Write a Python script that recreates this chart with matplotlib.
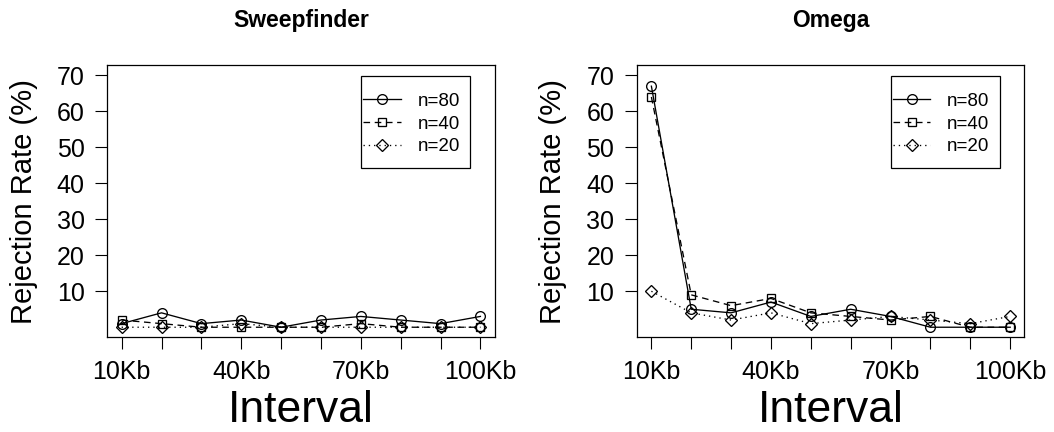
import matplotlib
matplotlib.use('Agg')
from matplotlib import pyplot as plt
from matplotlib.patches import Rectangle
import numpy as np

plt.rcParams['font.family'] = ['Liberation Sans', 'DejaVu Sans']

# interval positions and labels
intervals = [1, 2, 3, 4, 5, 6, 7, 8, 9, 10]
interval_labels = ['10Kb', '20Kb', '30Kb', '40Kb', '50Kb',
                   '60Kb', '70Kb', '80Kb', '90Kb', '100Kb']
shown_labels = ['10Kb', '40Kb', '70Kb', '100Kb']
yticks = [10, 20, 30, 40, 50, 60, 70]

# rejection rates (%)
sweep_n80 = [1, 4, 1, 2, 0, 2, 3, 2, 1, 3]
sweep_n40 = [2, 1, 0, 0, 0, 0, 1, 0, 0, 0]
sweep_n20 = [0, 0, 0, 1, 0, 0, 0, 0, 0, 0]

omega_n80 = [67, 5, 4, 7, 3, 5, 3, 0, 0, 0]
omega_n40 = [64, 9, 6, 8, 4, 3, 2, 3, 0, 0]
omega_n20 = [10, 4, 2, 4, 1, 2, 3, 2, 1, 3]

series_names = ['n=80', 'n=40', 'n=20']

fig = plt.figure(figsize=(10.54, 4.32), dpi=100)
ax1 = fig.add_axes([0.1018, 0.2192, 0.3676, 0.6296])
ax2 = fig.add_axes([0.6044, 0.2192, 0.3676, 0.6296])

lw = 0.95
styles = [
    dict(linestyle='-', marker='o', markersize=7),
    dict(linestyle=(0, (5, 3.5)), marker='s', markersize=5.8),
    dict(linestyle=(0, (1, 3)), marker='D', markersize=5.8),
]

def draw(ax, title, data):
    for vals, name, st in zip(data, series_names, styles):
        ax.plot(intervals, vals, color='black', lw=lw, mfc='none',
                mec='black', mew=lw, label=name, **st)
    ax.set_xlim(0.64, 10.36)
    ax.set_ylim(-2.8, 72.8)
    ax.set_xticks(intervals)
    ax.set_xticklabels([l if l in shown_labels else '' for l in interval_labels])
    ax.set_yticks(yticks)
    ax.tick_params(axis='both', direction='out', length=8.4, width=0.8,
                   labelsize=18, pad=8, color='black')
    for s in ax.spines.values():
        s.set_linewidth(0.9)
    ax.set_ylabel('Rejection Rate (%)', fontsize=21)
    ax.yaxis.set_label_coords(-0.18, 0.5)
    ax.text(0.5, -0.311, 'Interval', transform=ax.transAxes, ha='center',
            va='baseline', fontsize=32)
    ax.text(0.5, 1.142, title, transform=ax.transAxes, ha='center',
            va='baseline', fontsize=16.5, fontweight='bold')
    # legend box drawn separately, entries without frame
    ax.add_patch(Rectangle((0.6547, 0.6224), 0.2813, 0.339, transform=ax.transAxes,
                           fill=False, edgecolor='black', lw=0.9, zorder=4))
    ax.legend(loc='upper left', bbox_to_anchor=(0.660, 0.899),
              fontsize=13.5, frameon=False, borderpad=0,
              handlelength=2.0, handletextpad=0.9, labelspacing=0.3,
              borderaxespad=0)

draw(ax1, 'Sweepfinder', [sweep_n80, sweep_n40, sweep_n20])
draw(ax2, 'Omega', [omega_n80, omega_n40, omega_n20])

fig.savefig('out.png', dpi=100)
